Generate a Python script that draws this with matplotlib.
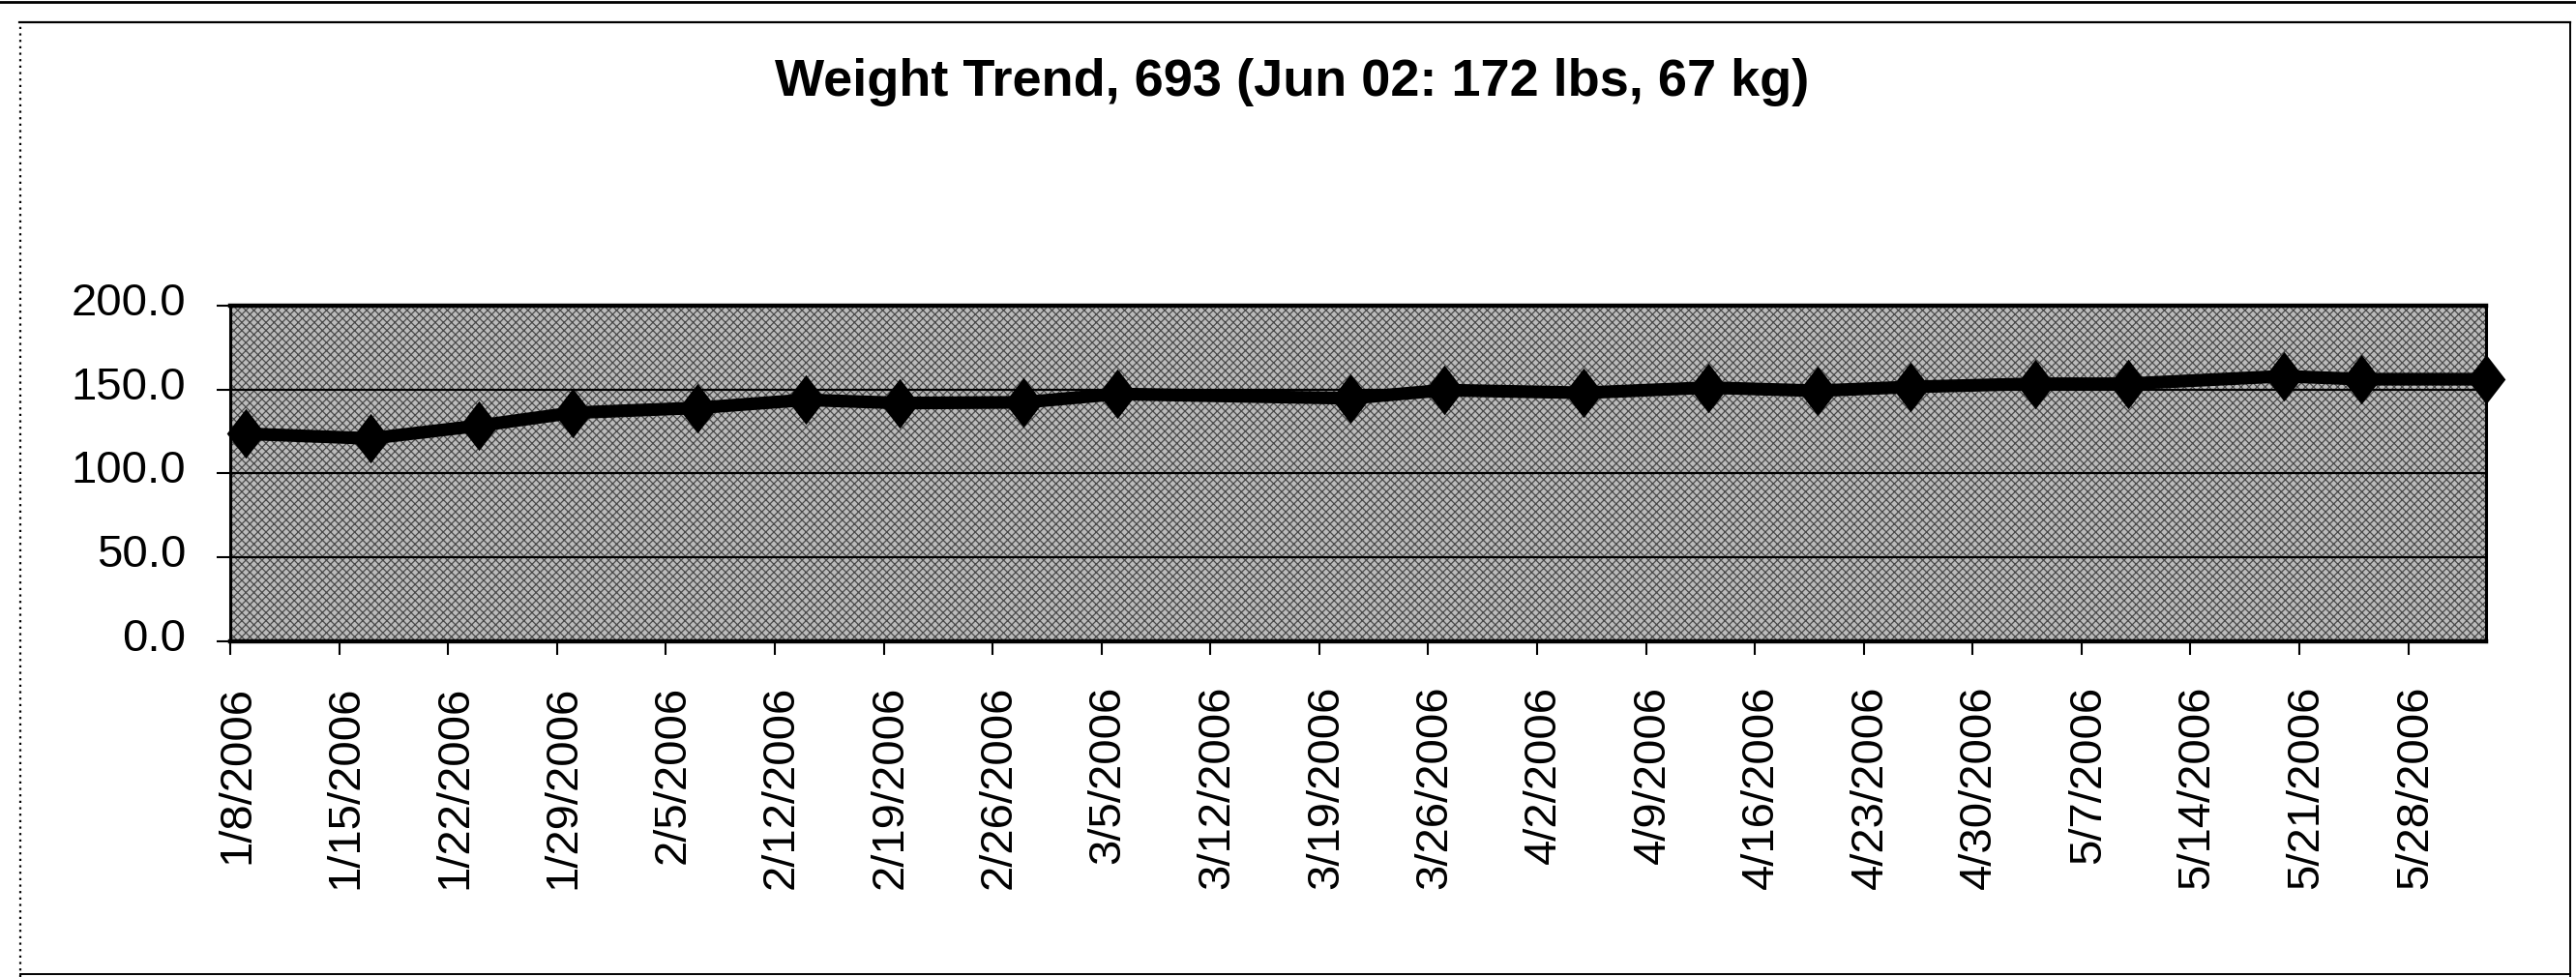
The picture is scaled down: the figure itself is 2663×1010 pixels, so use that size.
import matplotlib

matplotlib.use("Agg")
import matplotlib.pyplot as plt
import pandas as pd
from matplotlib.lines import Line2D
from matplotlib.patches import Rectangle
from matplotlib.ticker import FormatStrFormatter
from matplotlib.transforms import ScaledTranslation

# weigh-in dates and weights (lbs)
dates = ["2006-01-09", "2006-01-17", "2006-01-24", "2006-01-30", "2006-02-07",
         "2006-02-14", "2006-02-20", "2006-02-28", "2006-03-06", "2006-03-21",
         "2006-03-27", "2006-04-05", "2006-04-13", "2006-04-20", "2006-04-26",
         "2006-05-04", "2006-05-10", "2006-05-20", "2006-05-25", "2006-06-02"]
weights = [123.7, 120.9, 128.5, 136.2, 139.1,
           143.9, 142.0, 142.4, 147.4, 144.8,
           149.7, 148.1, 151.2, 149.3, 151.6,
           153.5, 153.5, 158.0, 156.2, 156.2]

tick_labels = ["1/8/2006", "1/15/2006", "1/22/2006", "1/29/2006", "2/5/2006",
               "2/12/2006", "2/19/2006", "2/26/2006", "3/5/2006", "3/12/2006",
               "3/19/2006", "3/26/2006", "4/2/2006", "4/9/2006", "4/16/2006",
               "4/23/2006", "4/30/2006", "5/7/2006", "5/14/2006", "5/21/2006",
               "5/28/2006"]
y_ticks = [0, 50, 100, 150, 200]
x_min, x_max = "2006-01-08", "2006-06-02"
title = "Weight Trend, 693 (Jun 02: 172 lbs, 67 kg)"

plt.rcParams.update({
    "font.family": ["Liberation Sans", "DejaVu Sans"],
    "hatch.linewidth": 0.9,
})

fig = plt.figure(figsize=(26.63, 10.10), dpi=100)
ax = fig.add_axes([0.0894, 0.3436, 0.8757, 0.3435])

x = pd.to_datetime(dates)
ticks = pd.to_datetime(tick_labels, format="%m/%d/%Y")

# stippled plot area, roughly like the Excel pattern fill
ax.set_facecolor("#bbbbbb")
ax.add_patch(Rectangle((0, 0), 1, 1, transform=ax.transAxes, facecolor="none",
                       edgecolor="#4a4a4a", hatch="xxxx", linewidth=0, zorder=0.1))

diamond = [(0, 1), (0.77, 0), (0, -1), (-0.77, 0), (0, 1)]
ax.plot(x, weights, color="black", linewidth=9.5, marker=diamond,
        markersize=37, markeredgewidth=0, zorder=3, clip_on=False)

ax.set_xlim(pd.Timestamp(x_min), pd.Timestamp(x_max))
ax.set_ylim(0, 200)
ax.set_yticks(y_ticks)
ax.yaxis.set_major_formatter(FormatStrFormatter("%.1f"))
ax.set_xticks(ticks)
ax.set_xticklabels(tick_labels, rotation=90)

ax.set_axisbelow(True)
ax.yaxis.grid(True, color="black", linewidth=1.6)
ax.tick_params(axis="both", direction="out", length=10, width=1.5,
               pad=23, labelsize=34, colors="black")
for side, lw in [("left", 2.2), ("bottom", 3.2), ("top", 3.2), ("right", 2.2)]:
    ax.spines[side].set_linewidth(lw)
    ax.spines[side].set_color("black")

# Excel nudges the rotated labels right of their ticks, value labels sit a bit high
shift_x = ScaledTranslation(7 / 100, 0, fig.dpi_scale_trans)
for lab in ax.get_xticklabels():
    lab.set_transform(lab.get_transform() + shift_x)
shift_y = ScaledTranslation(0, 7 / 100, fig.dpi_scale_trans)
for lab in ax.get_yticklabels():
    lab.set_transform(lab.get_transform() + shift_y)

fig.text(0.5017, 0.916, title, ha="center", va="center",
         fontsize=39, fontweight="bold")

# chart-area border from the scan
border = dict(transform=fig.transFigure, color="black")
fig.add_artist(Line2D([0, 1], [0.9985, 0.9985], linewidth=2.0, **border))
fig.add_artist(Line2D([0.0075, 0.9977], [0.9772, 0.9772], linewidth=1.6, **border))
fig.add_artist(Line2D([0.0077, 0.0077], [0.0, 0.9772], linewidth=1.6,
                      linestyle=(0, (1, 2)), **border))
fig.add_artist(Line2D([0.9977, 0.9977], [0.0, 0.9772], linewidth=1.4, **border))
fig.add_artist(Line2D([0.0077, 0.9977], [0.003, 0.003], linewidth=1.4, **border))

fig.savefig("out.png", dpi=100)
plt.close(fig)
